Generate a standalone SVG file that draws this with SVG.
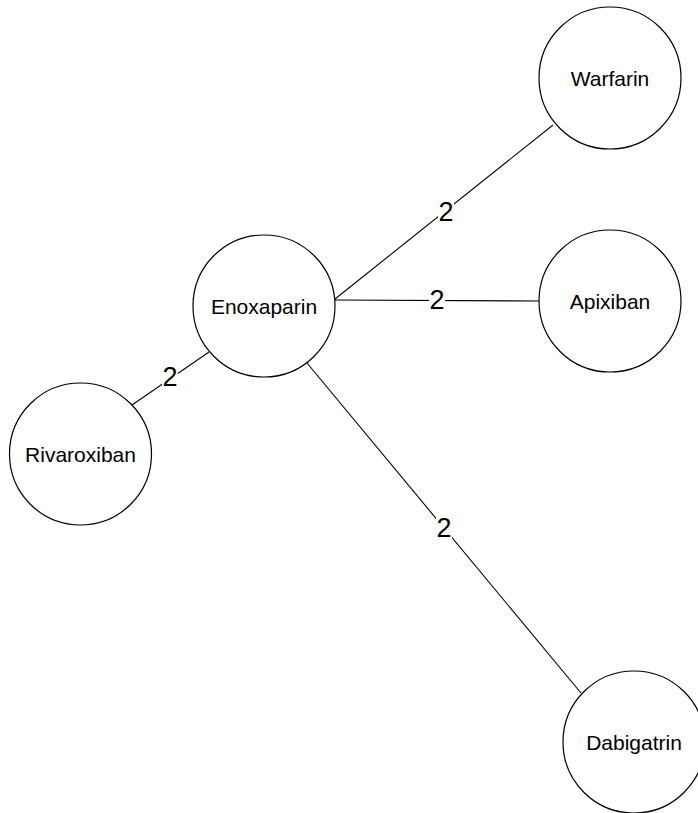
<svg xmlns="http://www.w3.org/2000/svg" width="698" height="813" viewBox="0 0 698 813">
<style>
.node circle{fill:#fff;stroke:#000;stroke-width:1.2}
.node text{font-family:"Liberation Sans",Arial,sans-serif;font-size:21px;fill:#000;text-anchor:middle;dominant-baseline:central}
.edges line{stroke:#000;stroke-width:1.1}
.lbl rect{fill:#fff}
.lbl text{font-family:"Liberation Sans",Arial,sans-serif;font-size:27px;fill:#000;text-anchor:middle}
</style>
<rect width="698" height="813" fill="#fff"/>
<g id="edges" class="edges">
<line x1="335" y1="299" x2="553" y2="125"/>
<line x1="335" y1="300" x2="539" y2="301"/>
<line x1="209" y1="352" x2="132" y2="405"/>
<line x1="307" y1="363" x2="581" y2="693"/>
</g>
<g id="labels" class="lbl">
<rect x="438" y="202" width="16" height="20"/><text x="446" y="221">2</text>
<rect x="429" y="290" width="16" height="20"/><text x="437" y="309">2</text>
<rect x="162" y="366" width="16" height="20"/><text x="170" y="386">2</text>
<rect x="436" y="518" width="16" height="20"/><text x="444" y="537">2</text>
</g>
<g id="Enoxaparin" class="node"><circle cx="264" cy="306" r="71"/><text x="264" y="306">Enoxaparin</text></g>
<g id="Warfarin" class="node"><circle cx="610" cy="78" r="71"/><text x="610" y="78">Warfarin</text></g>
<g id="Apixiban" class="node"><circle cx="610" cy="301" r="71"/><text x="610" y="301">Apixiban</text></g>
<g id="Rivaroxiban" class="node"><circle cx="80.5" cy="454" r="71"/><text x="80.5" y="454">Rivaroxiban</text></g>
<g id="Dabigatrin" class="node"><circle cx="634" cy="742" r="71"/><text x="634" y="742">Dabigatrin</text></g>
</svg>
